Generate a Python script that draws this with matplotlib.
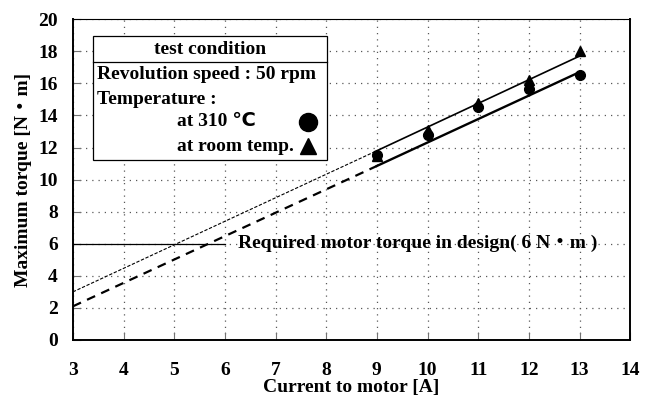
import matplotlib.pyplot as plt
from matplotlib.patches import Rectangle

plt.rcParams["font.family"] = ["Liberation Serif", "DejaVu Sans", "Noto Sans CJK JP"]
plt.rcParams["font.weight"] = "bold"

# measured points
current = [9, 10, 11, 12, 13]
torque_310 = [11.55, 12.75, 14.55, 15.65, 16.5]
torque_room = [11.45, 13.1, 14.75, 16.2, 18.0]

# fitted lines: extrapolated part (3 -> 9) and measured range (9 -> 13)
fit_x = [3, 9, 13]
fit_310 = [2.1, 10.85, 16.7]
fit_room = [3.0, 11.8, 17.7]

required_torque = 6
required_x = [3, 6]

x_ticks = list(range(3, 15))
y_ticks = list(range(0, 21, 2))

TXT = 14

fig = plt.figure(figsize=(6.51, 4.0), dpi=100)
ax = fig.add_axes([0.112, 0.15, 0.856, 0.802])

ax.set_xlim(3, 14)
ax.set_ylim(0, 20)
ax.set_xticks(x_ticks)
ax.set_yticks(y_ticks)
ax.tick_params(direction="in", length=6, width=0.8, color="0.45", labelsize=TXT)
ax.tick_params(axis="x", pad=16)
ax.tick_params(axis="y", pad=11)
for lab in ax.get_xticklabels() + ax.get_yticklabels():
    lab.set_fontweight("bold")
ax.grid(True, color="0.35", linestyle=(0, (1, 4)), linewidth=0.9)
for sp in ax.spines.values():
    sp.set_linewidth(1.4)
ax.spines["top"].set_linewidth(0.8)

ax.set_xlabel("Current to motor [A]", fontsize=TXT, fontweight="bold", labelpad=0)
ax.set_ylabel("Maximum torque [N・m]", fontsize=TXT, fontweight="bold", labelpad=4)

# fit lines
ax.plot(fit_x[:2], fit_room[:2], color="black", lw=0.8, ls=(0, (3, 1.5)))
ax.plot(fit_x[1:], fit_room[1:], color="black", lw=1.2)
ax.plot(fit_x[:2], fit_310[:2], color="black", lw=1.6, ls=(0, (4, 3)))
ax.plot(fit_x[1:], fit_310[1:], color="black", lw=1.7)

ax.plot(current, torque_room, "^", color="black", ms=7)
ax.plot(current, torque_310, "o", color="black", ms=7)

# required torque
ax.plot(required_x, [required_torque] * 2, color="black", lw=0.9)
ax.text(6.25, required_torque + 0.05, "Required motor torque in design( 6 N・m )",
        fontsize=TXT, fontweight="bold", va="center", ha="left")

# condition box
ax.add_patch(Rectangle((3.39, 11.25), 4.63, 7.69, facecolor="white",
                       edgecolor="black", lw=0.9, zorder=3))
ax.plot([3.39, 8.02], [17.31, 17.31], color="black", lw=0.9, zorder=4)
ax.text(5.7, 18.12, "test condition", fontsize=TXT, fontweight="bold",
        ha="center", va="center", zorder=5)
ax.text(3.47, 16.56, "Revolution speed : 50 rpm", fontsize=TXT,
        fontweight="bold", ha="left", va="center", zorder=5)
ax.text(3.47, 15.0, "Temperature :", fontsize=TXT, fontweight="bold",
        ha="left", va="center", zorder=5)
ax.text(5.05, 13.6, "at 310 ℃", fontsize=TXT, fontweight="bold",
        ha="left", va="center", zorder=5)
ax.text(5.05, 12.06, "at room temp.", fontsize=TXT, fontweight="bold",
        ha="left", va="center", zorder=5)
ax.plot([7.64], [13.6], "o", color="black", ms=13, zorder=5)
ax.plot([7.64], [12.1], "^", color="black", ms=11, zorder=5)

fig.savefig("out.png", dpi=100)
